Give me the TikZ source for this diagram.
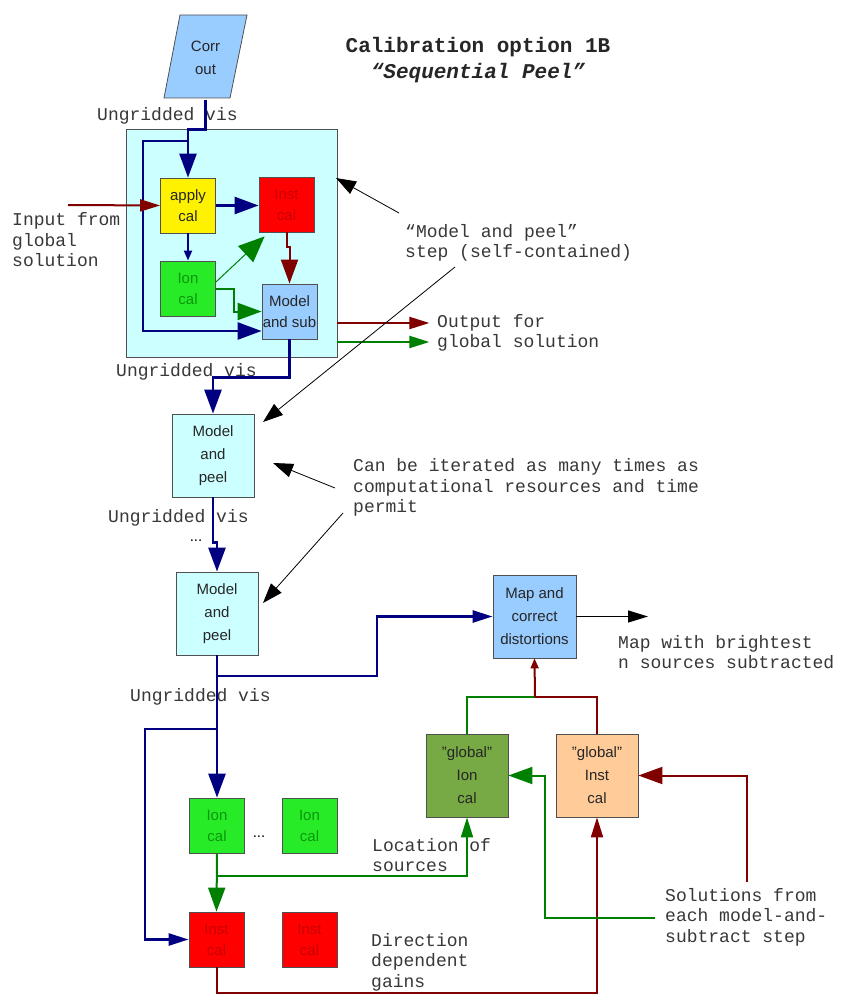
\documentclass[tikz,border=0pt]{standalone}
\usepackage{fontspec}
\setmainfont{Liberation Sans}
\newfontfamily\monof{Liberation Mono}
\usetikzlibrary{arrows.meta}
\definecolor{navyc}{RGB}{0,0,128}
\definecolor{dkred}{RGB}{128,0,0}
\definecolor{dkgreen}{RGB}{0,128,0}
\definecolor{cyanbg}{RGB}{204,255,255}
\definecolor{ltblue}{RGB}{153,204,255}
\definecolor{boxgreen}{RGB}{40,235,40}
\definecolor{gionc}{RGB}{119,170,68}
\definecolor{peach}{RGB}{255,204,153}
\definecolor{edgec}{RGB}{80,80,80}
\definecolor{redtext}{RGB}{200,0,0}
\definecolor{greentext}{RGB}{10,150,10}
\begin{document}
\begin{tikzpicture}[x=1pt,y=-1pt,
  box/.style={draw=edgec, line width=0.8pt, inner sep=0pt, align=center,
    font=\fontsize{15}{21}\selectfont, text=black!85},
  sq/.style={box, minimum width=55pt, minimum height=55pt},
  bg/.style={box, minimum width=82pt, minimum height=83pt, font=\fontsize{15}{23}\selectfont},
  lbl/.style={font=\monof\fontsize{18}{20.5}\selectfont, align=left, inner sep=0pt, anchor=west, text=black!78},
  nv/.style={draw=navyc, line width=2.6pt},
  rd/.style={draw=dkred, line width=2pt},
  gn/.style={draw=dkgreen, line width=2pt},
  tipA/.style={-{Triangle[length=24pt,width=17pt]}},
  tipM/.style={-{Triangle[length=20pt,width=12pt]}},
  tipS/.style={-{Triangle[length=10pt,width=8pt]}},
  ptr/.style={draw=black, line width=0.8pt, -{Triangle[length=20pt,width=14pt]}}
]
\useasboundingbox[fill=white] (0,0) rectangle (867,1000);

% title
\node[font=\monof\bfseries\fontsize{21}{26}\selectfont, text=black!85] (title) at (478,47) {Calibration option 1B};
\node[font=\monof\bfseries\itshape\fontsize{21}{26}\selectfont, text=black!85] (title2) at (478,73) {“Sequential Peel”};

% Corr out parallelogram
\fill[ltblue, draw=edgec, line width=0.8pt] (180,15) -- (247,15) -- (230,98) -- (164,98) -- cycle;
\node[inner sep=0pt, minimum height=83pt, minimum width=50pt, align=center,
  font=\fontsize{15}{23}\selectfont, text=black!85] (corr) at (205.5,58) {Corr\\out};

% model and peel container
\node[draw=edgec, fill=cyanbg, line width=0.8pt, minimum width=211pt, minimum height=228pt, inner sep=0pt] (peelbox) at (231.5,243) {};

\node[sq, fill=yellow] (apply) at (188,205.5) {apply\\cal};
\node[sq, fill=red, text=redtext] (inst) at (286.5,204.5) {Inst\\cal};
\node[sq, fill=boxgreen, text=greentext] (ion) at (188,288.5) {Ion\\cal};
\node[sq, fill=ltblue] (msub) at (289.5,311.5) {Model\\and sub};

\node[bg, fill=cyanbg] (mp1) at (213,455.5) {Model\\and\\peel};
\node[bg, fill=cyanbg] (mp2) at (217,613.5) {Model\\and\\peel};
\node[bg, fill=ltblue, minimum width=83pt] (map) at (534.5,616.5) {Map and\\correct\\distortions};

\node[sq, fill=boxgreen, text=greentext] (ion1) at (217,825.5) {Ion\\cal};
\node[sq, fill=boxgreen, text=greentext] (ion2) at (309.5,825.5) {Ion\\cal};
\node[sq, fill=red, text=redtext] (inst1) at (216.5,939.5) {Inst\\cal};
\node[sq, fill=red, text=redtext] (inst2) at (309.5,939.5) {Inst\\cal};

\node[bg, fill=gionc] (gion) at (467,775.5) {"global"\\Ion\\cal};
\node[bg, fill=peach] (ginst) at (597,775.5) {"global"\\Inst\\cal};

% labels
\node[lbl] (uv1) at (97,116) {Ungridded vis};
\node[lbl] (uv2) at (116,372) {Ungridded vis};
\node[lbl] (uv3) at (108,518) {Ungridded vis};
\node[lbl] (uv4) at (130,697) {Ungridded vis};
\node[lbl] (inputlbl) at (12,240) {Input from\\global\\solution};
\node[lbl] (steplbl) at (405,243) {“Model and peel”\\step (self-contained)};
\node[lbl] (outlbl) at (437,333) {Output for\\global solution};
\node[lbl] (iterlbl) at (353,487.5) {Can be iterated as many times as\\computational resources and time\\permit};
\node[lbl] (maplbl) at (618,652) {Map with brightest\\n sources subtracted};
\node[lbl] (loclbl) at (372,855) {Location of\\sources};
\node[lbl] (dirlbl) at (371,962) {Direction\\dependent\\gains};
\node[lbl] (sollbl) at (665,917) {Solutions from\\each model-and-\\subtract step};
\node[font=\fontsize{15}{15}\selectfont, inner sep=0pt] (dots1) at (196,541) {...};
\node[font=\fontsize{15}{15}\selectfont, inner sep=0pt] (dots2) at (259,837) {...};

% coordinates
\coordinate (lp) at (188,141);
\coordinate (lpc) at (143,331);
\coordinate (inp) at (68,205);
\coordinate (c1) at (377,676);
\coordinate (b1) at (217,729);
\coordinate (b2) at (145,729);
\coordinate (g1) at (217,876);
\coordinate (j) at (535,697);
\coordinate (s1) at (655,918);
\coordinate (s1b) at (545,918);
\coordinate (s2) at (747,882);
\coordinate (mo) at (648,616.5);
\coordinate (p1s) at (399,213);
\coordinate (p1e) at (336,178);
\coordinate (p2s) at (455,267);
\coordinate (p2e) at (263,422);
\coordinate (p3s) at (335,488);
\coordinate (p3e) at (273,463);
\coordinate (p4s) at (343,513);
\coordinate (p4e) at (263,603);

% top block connectors
\draw[nv, tipA] (corr.south) -- ++(0,30) -| (apply.north);
\draw[nv, tipA] (lp) -| (lpc) -- (lpc -| msub.west);
\draw[nv, tipA] (apply.east) -- (apply.east -| inst.west);
\draw[nv, line width=2pt, tipS] (apply.south) -- (ion.north);
\draw[dkgreen, line width=1pt, -{Triangle[length=26pt,width=22pt]}] ([yshift=6.5pt]ion.east) -- ([xshift=6pt,yshift=-4pt]inst.south west);
\draw[gn, tipA] (ion.east) -- ++(18,0) |- (msub.west);
\draw[rd, tipA] (inst.south) -- ++(0,15) -| (msub.north);
\draw[rd, tipM] (inp) -- (apply.west);
\draw[rd, tipM] ([yshift=-80pt]peelbox.east) -- ++(92,0);
\draw[gn, tipM] ([yshift=-99pt]peelbox.east) -- ++(92,0);

% chain
\draw[nv, tipA] (msub.south) -- ++(0,38) -| (mp1.north);
\draw[nv, tipA] (mp1.south) -- ++(0,45) -| (mp2.north);
\draw[nv, tipM] (mp2.south) |- (c1) |- (map.west);
\draw[nv, tipA] (mp2.south) -- (ion1.north);
\draw[nv, tipM] (b1) -- (b2) |- (inst1.west);
\draw[black, line width=1.2pt, tipM] (map.east) -- (mo);

% bottom
\draw[gn, tipA] (ion1.south) -- (inst1.north);
\draw[gn, tipM] (g1) -| (gion.south);
\draw[rd, tipM] (inst1.south) -- ++(0,26) -| (ginst.south);
\draw[gn] (gion.north) |- (j);
\draw[rd] (ginst.north) |- (j);
\draw[rd, tipS] (j) -- (map.south);
\draw[gn, tipA] (s1) -- (s1b) |- (gion.east);
\draw[rd, tipA] (s2) |- (ginst.east);

% pointers
\draw[ptr] (p1s) -- (p1e);
\draw[ptr] (p2s) -- (p2e);
\draw[ptr] (p3s) -- (p3e);
\draw[ptr] (p4s) -- (p4e);
\end{tikzpicture}
\end{document}
